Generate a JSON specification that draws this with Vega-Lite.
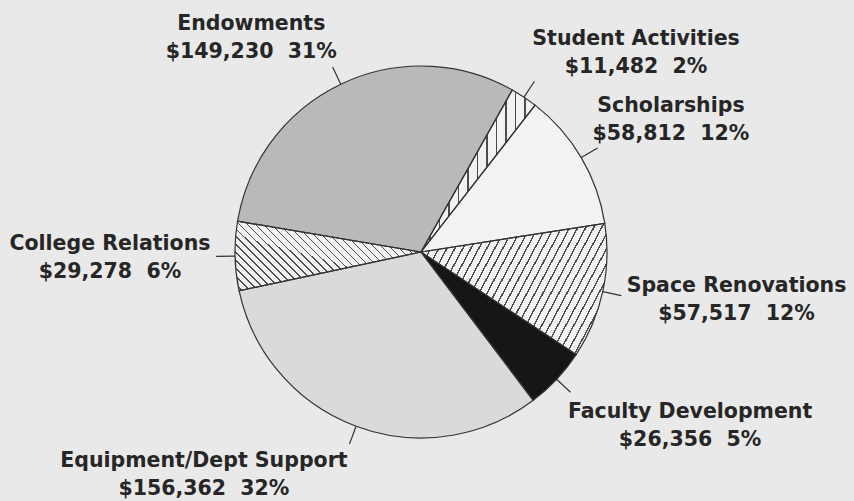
{
  "$schema": "https://vega.github.io/schema/vega-lite/v6.json",
  "width": 842,
  "height": 498,
  "autosize": {"type": "none"},
  "padding": {"left": 0, "top": 3, "right": 12, "bottom": 0},
  "background": "#e9e9e9",
  "view": {"stroke": null},
  "data": {
    "values": [
      {"idx": 1, "name": "Student Activities", "value": 11482, "label": "Student Activities\n$11,482 \u00a02%"},
      {"idx": 2, "name": "Scholarships", "value": 58812, "label": "Scholarships\n$58,812 \u00a012%"},
      {"idx": 3, "name": "Space Renovations", "value": 57517, "label": "Space Renovations\n$57,517 \u00a012%"},
      {"idx": 4, "name": "Faculty Development", "value": 26356, "label": "Faculty Development\n$26,356 \u00a05%"},
      {"idx": 5, "name": "Equipment/Dept Support", "value": 156362, "label": "Equipment/Dept Support\n$156,362 \u00a032%"},
      {"idx": 6, "name": "College Relations", "value": 29278, "label": "College Relations\n$29,278 \u00a06%"},
      {"idx": 7, "name": "Endowments", "value": 149230, "label": "Endowments\n$149,230 \u00a031%"}
    ]
  },
  "encoding": {
    "theta": {"field": "value", "type": "quantitative", "stack": true, "scale": {"range": [0.513, 6.796]}},
    "order": {"field": "idx", "type": "quantitative"}
  },
  "layer": [
    {
      "mark": {"type": "arc", "outerRadius": 186, "strokeWidth": 0},
      "encoding": {
        "color": {
          "field": "name",
          "type": "nominal",
          "legend": null,
          "scale": {
            "domain": ["Student Activities", "Scholarships", "Space Renovations", "Faculty Development", "Equipment/Dept Support", "College Relations", "Endowments"],
            "range": ["#d9d9d9", "#f3f3f3", "#c9c9c9", "#161616", "#dadada", "#c2c2c2", "#b9b9b9"]
          }
        }
      }
    },
    {
      "mark": {"type": "arc", "outerRadius": 186, "strokeWidth": 0},
      "encoding": {
        "fill": {
          "condition": [
            {
              "test": "datum.name === 'Space Renovations'",
              "value": {
                "gradient": "linear", "x1": 0, "y1": 0, "x2": 1.2055, "y2": 0.4514,
                "stops": [
                  {"offset": 0, "color": "#f2f2f2"}, {"offset": 0.025, "color": "#f2f2f2"}, {"offset": 0.025, "color": "#4d4d4d"}, {"offset": 0.03125, "color": "#4d4d4d"},
                  {"offset": 0.03125, "color": "#f2f2f2"}, {"offset": 0.05625, "color": "#f2f2f2"}, {"offset": 0.05625, "color": "#4d4d4d"}, {"offset": 0.0625, "color": "#4d4d4d"},
                  {"offset": 0.0625, "color": "#f2f2f2"}, {"offset": 0.0875, "color": "#f2f2f2"}, {"offset": 0.0875, "color": "#4d4d4d"}, {"offset": 0.09375, "color": "#4d4d4d"},
                  {"offset": 0.09375, "color": "#f2f2f2"}, {"offset": 0.11875, "color": "#f2f2f2"}, {"offset": 0.11875, "color": "#4d4d4d"}, {"offset": 0.125, "color": "#4d4d4d"},
                  {"offset": 0.125, "color": "#f2f2f2"}, {"offset": 0.15, "color": "#f2f2f2"}, {"offset": 0.15, "color": "#4d4d4d"}, {"offset": 0.15625, "color": "#4d4d4d"},
                  {"offset": 0.15625, "color": "#f2f2f2"}, {"offset": 0.18125, "color": "#f2f2f2"}, {"offset": 0.18125, "color": "#4d4d4d"}, {"offset": 0.1875, "color": "#4d4d4d"},
                  {"offset": 0.1875, "color": "#f2f2f2"}, {"offset": 0.2125, "color": "#f2f2f2"}, {"offset": 0.2125, "color": "#4d4d4d"}, {"offset": 0.21875, "color": "#4d4d4d"},
                  {"offset": 0.21875, "color": "#f2f2f2"}, {"offset": 0.24375, "color": "#f2f2f2"}, {"offset": 0.24375, "color": "#4d4d4d"}, {"offset": 0.25, "color": "#4d4d4d"},
                  {"offset": 0.25, "color": "#f2f2f2"}, {"offset": 0.275, "color": "#f2f2f2"}, {"offset": 0.275, "color": "#4d4d4d"}, {"offset": 0.28125, "color": "#4d4d4d"},
                  {"offset": 0.28125, "color": "#f2f2f2"}, {"offset": 0.30625, "color": "#f2f2f2"}, {"offset": 0.30625, "color": "#4d4d4d"}, {"offset": 0.3125, "color": "#4d4d4d"},
                  {"offset": 0.3125, "color": "#f2f2f2"}, {"offset": 0.3375, "color": "#f2f2f2"}, {"offset": 0.3375, "color": "#4d4d4d"}, {"offset": 0.34375, "color": "#4d4d4d"},
                  {"offset": 0.34375, "color": "#f2f2f2"}, {"offset": 0.36875, "color": "#f2f2f2"}, {"offset": 0.36875, "color": "#4d4d4d"}, {"offset": 0.375, "color": "#4d4d4d"},
                  {"offset": 0.375, "color": "#f2f2f2"}, {"offset": 0.4, "color": "#f2f2f2"}, {"offset": 0.4, "color": "#4d4d4d"}, {"offset": 0.40625, "color": "#4d4d4d"},
                  {"offset": 0.40625, "color": "#f2f2f2"}, {"offset": 0.43125, "color": "#f2f2f2"}, {"offset": 0.43125, "color": "#4d4d4d"}, {"offset": 0.4375, "color": "#4d4d4d"},
                  {"offset": 0.4375, "color": "#f2f2f2"}, {"offset": 0.4625, "color": "#f2f2f2"}, {"offset": 0.4625, "color": "#4d4d4d"}, {"offset": 0.46875, "color": "#4d4d4d"},
                  {"offset": 0.46875, "color": "#f2f2f2"}, {"offset": 0.49375, "color": "#f2f2f2"}, {"offset": 0.49375, "color": "#4d4d4d"}, {"offset": 0.5, "color": "#4d4d4d"},
                  {"offset": 0.5, "color": "#f2f2f2"}, {"offset": 0.525, "color": "#f2f2f2"}, {"offset": 0.525, "color": "#4d4d4d"}, {"offset": 0.53125, "color": "#4d4d4d"},
                  {"offset": 0.53125, "color": "#f2f2f2"}, {"offset": 0.55625, "color": "#f2f2f2"}, {"offset": 0.55625, "color": "#4d4d4d"}, {"offset": 0.5625, "color": "#4d4d4d"},
                  {"offset": 0.5625, "color": "#f2f2f2"}, {"offset": 0.5875, "color": "#f2f2f2"}, {"offset": 0.5875, "color": "#4d4d4d"}, {"offset": 0.59375, "color": "#4d4d4d"},
                  {"offset": 0.59375, "color": "#f2f2f2"}, {"offset": 0.61875, "color": "#f2f2f2"}, {"offset": 0.61875, "color": "#4d4d4d"}, {"offset": 0.625, "color": "#4d4d4d"},
                  {"offset": 0.625, "color": "#f2f2f2"}, {"offset": 0.65, "color": "#f2f2f2"}, {"offset": 0.65, "color": "#4d4d4d"}, {"offset": 0.65625, "color": "#4d4d4d"},
                  {"offset": 0.65625, "color": "#f2f2f2"}, {"offset": 0.68125, "color": "#f2f2f2"}, {"offset": 0.68125, "color": "#4d4d4d"}, {"offset": 0.6875, "color": "#4d4d4d"},
                  {"offset": 0.6875, "color": "#f2f2f2"}, {"offset": 0.7125, "color": "#f2f2f2"}, {"offset": 0.7125, "color": "#4d4d4d"}, {"offset": 0.71875, "color": "#4d4d4d"},
                  {"offset": 0.71875, "color": "#f2f2f2"}, {"offset": 0.74375, "color": "#f2f2f2"}, {"offset": 0.74375, "color": "#4d4d4d"}, {"offset": 0.75, "color": "#4d4d4d"},
                  {"offset": 0.75, "color": "#f2f2f2"}, {"offset": 0.775, "color": "#f2f2f2"}, {"offset": 0.775, "color": "#4d4d4d"}, {"offset": 0.78125, "color": "#4d4d4d"},
                  {"offset": 0.78125, "color": "#f2f2f2"}, {"offset": 0.80625, "color": "#f2f2f2"}, {"offset": 0.80625, "color": "#4d4d4d"}, {"offset": 0.8125, "color": "#4d4d4d"},
                  {"offset": 0.8125, "color": "#f2f2f2"}, {"offset": 0.8375, "color": "#f2f2f2"}, {"offset": 0.8375, "color": "#4d4d4d"}, {"offset": 0.84375, "color": "#4d4d4d"},
                  {"offset": 0.84375, "color": "#f2f2f2"}, {"offset": 0.86875, "color": "#f2f2f2"}, {"offset": 0.86875, "color": "#4d4d4d"}, {"offset": 0.875, "color": "#4d4d4d"},
                  {"offset": 0.875, "color": "#f2f2f2"}, {"offset": 0.9, "color": "#f2f2f2"}, {"offset": 0.9, "color": "#4d4d4d"}, {"offset": 0.90625, "color": "#4d4d4d"},
                  {"offset": 0.90625, "color": "#f2f2f2"}, {"offset": 0.93125, "color": "#f2f2f2"}, {"offset": 0.93125, "color": "#4d4d4d"}, {"offset": 0.9375, "color": "#4d4d4d"},
                  {"offset": 0.9375, "color": "#f2f2f2"}, {"offset": 0.9625, "color": "#f2f2f2"}, {"offset": 0.9625, "color": "#4d4d4d"}, {"offset": 0.96875, "color": "#4d4d4d"},
                  {"offset": 0.96875, "color": "#f2f2f2"}, {"offset": 0.99375, "color": "#f2f2f2"}, {"offset": 0.99375, "color": "#4d4d4d"}, {"offset": 1, "color": "#4d4d4d"}
                ]
              }
            },
            {
              "test": "datum.name === 'College Relations'",
              "value": {
                "gradient": "linear", "x1": 0, "y1": 1, "x2": 1.205, "y2": 0.548,
                "stops": [
                  {"offset": 0, "color": "#f2f2f2"}, {"offset": 0.025, "color": "#f2f2f2"}, {"offset": 0.025, "color": "#4d4d4d"}, {"offset": 0.03125, "color": "#4d4d4d"},
                  {"offset": 0.03125, "color": "#f2f2f2"}, {"offset": 0.05625, "color": "#f2f2f2"}, {"offset": 0.05625, "color": "#4d4d4d"}, {"offset": 0.0625, "color": "#4d4d4d"},
                  {"offset": 0.0625, "color": "#f2f2f2"}, {"offset": 0.0875, "color": "#f2f2f2"}, {"offset": 0.0875, "color": "#4d4d4d"}, {"offset": 0.09375, "color": "#4d4d4d"},
                  {"offset": 0.09375, "color": "#f2f2f2"}, {"offset": 0.11875, "color": "#f2f2f2"}, {"offset": 0.11875, "color": "#4d4d4d"}, {"offset": 0.125, "color": "#4d4d4d"},
                  {"offset": 0.125, "color": "#f2f2f2"}, {"offset": 0.15, "color": "#f2f2f2"}, {"offset": 0.15, "color": "#4d4d4d"}, {"offset": 0.15625, "color": "#4d4d4d"},
                  {"offset": 0.15625, "color": "#f2f2f2"}, {"offset": 0.18125, "color": "#f2f2f2"}, {"offset": 0.18125, "color": "#4d4d4d"}, {"offset": 0.1875, "color": "#4d4d4d"},
                  {"offset": 0.1875, "color": "#f2f2f2"}, {"offset": 0.2125, "color": "#f2f2f2"}, {"offset": 0.2125, "color": "#4d4d4d"}, {"offset": 0.21875, "color": "#4d4d4d"},
                  {"offset": 0.21875, "color": "#f2f2f2"}, {"offset": 0.24375, "color": "#f2f2f2"}, {"offset": 0.24375, "color": "#4d4d4d"}, {"offset": 0.25, "color": "#4d4d4d"},
                  {"offset": 0.25, "color": "#f2f2f2"}, {"offset": 0.275, "color": "#f2f2f2"}, {"offset": 0.275, "color": "#4d4d4d"}, {"offset": 0.28125, "color": "#4d4d4d"},
                  {"offset": 0.28125, "color": "#f2f2f2"}, {"offset": 0.30625, "color": "#f2f2f2"}, {"offset": 0.30625, "color": "#4d4d4d"}, {"offset": 0.3125, "color": "#4d4d4d"},
                  {"offset": 0.3125, "color": "#f2f2f2"}, {"offset": 0.3375, "color": "#f2f2f2"}, {"offset": 0.3375, "color": "#4d4d4d"}, {"offset": 0.34375, "color": "#4d4d4d"},
                  {"offset": 0.34375, "color": "#f2f2f2"}, {"offset": 0.36875, "color": "#f2f2f2"}, {"offset": 0.36875, "color": "#4d4d4d"}, {"offset": 0.375, "color": "#4d4d4d"},
                  {"offset": 0.375, "color": "#f2f2f2"}, {"offset": 0.4, "color": "#f2f2f2"}, {"offset": 0.4, "color": "#4d4d4d"}, {"offset": 0.40625, "color": "#4d4d4d"},
                  {"offset": 0.40625, "color": "#f2f2f2"}, {"offset": 0.43125, "color": "#f2f2f2"}, {"offset": 0.43125, "color": "#4d4d4d"}, {"offset": 0.4375, "color": "#4d4d4d"},
                  {"offset": 0.4375, "color": "#f2f2f2"}, {"offset": 0.4625, "color": "#f2f2f2"}, {"offset": 0.4625, "color": "#4d4d4d"}, {"offset": 0.46875, "color": "#4d4d4d"},
                  {"offset": 0.46875, "color": "#f2f2f2"}, {"offset": 0.49375, "color": "#f2f2f2"}, {"offset": 0.49375, "color": "#4d4d4d"}, {"offset": 0.5, "color": "#4d4d4d"},
                  {"offset": 0.5, "color": "#f2f2f2"}, {"offset": 0.525, "color": "#f2f2f2"}, {"offset": 0.525, "color": "#4d4d4d"}, {"offset": 0.53125, "color": "#4d4d4d"},
                  {"offset": 0.53125, "color": "#f2f2f2"}, {"offset": 0.55625, "color": "#f2f2f2"}, {"offset": 0.55625, "color": "#4d4d4d"}, {"offset": 0.5625, "color": "#4d4d4d"},
                  {"offset": 0.5625, "color": "#f2f2f2"}, {"offset": 0.5875, "color": "#f2f2f2"}, {"offset": 0.5875, "color": "#4d4d4d"}, {"offset": 0.59375, "color": "#4d4d4d"},
                  {"offset": 0.59375, "color": "#f2f2f2"}, {"offset": 0.61875, "color": "#f2f2f2"}, {"offset": 0.61875, "color": "#4d4d4d"}, {"offset": 0.625, "color": "#4d4d4d"},
                  {"offset": 0.625, "color": "#f2f2f2"}, {"offset": 0.65, "color": "#f2f2f2"}, {"offset": 0.65, "color": "#4d4d4d"}, {"offset": 0.65625, "color": "#4d4d4d"},
                  {"offset": 0.65625, "color": "#f2f2f2"}, {"offset": 0.68125, "color": "#f2f2f2"}, {"offset": 0.68125, "color": "#4d4d4d"}, {"offset": 0.6875, "color": "#4d4d4d"},
                  {"offset": 0.6875, "color": "#f2f2f2"}, {"offset": 0.7125, "color": "#f2f2f2"}, {"offset": 0.7125, "color": "#4d4d4d"}, {"offset": 0.71875, "color": "#4d4d4d"},
                  {"offset": 0.71875, "color": "#f2f2f2"}, {"offset": 0.74375, "color": "#f2f2f2"}, {"offset": 0.74375, "color": "#4d4d4d"}, {"offset": 0.75, "color": "#4d4d4d"},
                  {"offset": 0.75, "color": "#f2f2f2"}, {"offset": 0.775, "color": "#f2f2f2"}, {"offset": 0.775, "color": "#4d4d4d"}, {"offset": 0.78125, "color": "#4d4d4d"},
                  {"offset": 0.78125, "color": "#f2f2f2"}, {"offset": 0.80625, "color": "#f2f2f2"}, {"offset": 0.80625, "color": "#4d4d4d"}, {"offset": 0.8125, "color": "#4d4d4d"},
                  {"offset": 0.8125, "color": "#f2f2f2"}, {"offset": 0.8375, "color": "#f2f2f2"}, {"offset": 0.8375, "color": "#4d4d4d"}, {"offset": 0.84375, "color": "#4d4d4d"},
                  {"offset": 0.84375, "color": "#f2f2f2"}, {"offset": 0.86875, "color": "#f2f2f2"}, {"offset": 0.86875, "color": "#4d4d4d"}, {"offset": 0.875, "color": "#4d4d4d"},
                  {"offset": 0.875, "color": "#f2f2f2"}, {"offset": 0.9, "color": "#f2f2f2"}, {"offset": 0.9, "color": "#4d4d4d"}, {"offset": 0.90625, "color": "#4d4d4d"},
                  {"offset": 0.90625, "color": "#f2f2f2"}, {"offset": 0.93125, "color": "#f2f2f2"}, {"offset": 0.93125, "color": "#4d4d4d"}, {"offset": 0.9375, "color": "#4d4d4d"},
                  {"offset": 0.9375, "color": "#f2f2f2"}, {"offset": 0.9625, "color": "#f2f2f2"}, {"offset": 0.9625, "color": "#4d4d4d"}, {"offset": 0.96875, "color": "#4d4d4d"},
                  {"offset": 0.96875, "color": "#f2f2f2"}, {"offset": 0.99375, "color": "#f2f2f2"}, {"offset": 0.99375, "color": "#4d4d4d"}, {"offset": 1, "color": "#4d4d4d"}
                ]
              }
            },
            {
              "test": "datum.name === 'Student Activities'",
              "value": {
                "gradient": "linear", "x1": 0, "y1": 0, "x2": 1, "y2": 0,
                "stops": [
                  {"offset": 0, "color": "#f2f2f2"}, {"offset": 0.0725, "color": "#f2f2f2"}, {"offset": 0.0725, "color": "#4d4d4d"}, {"offset": 0.0833, "color": "#4d4d4d"},
                  {"offset": 0.0833, "color": "#f2f2f2"}, {"offset": 0.1558, "color": "#f2f2f2"}, {"offset": 0.1558, "color": "#4d4d4d"}, {"offset": 0.1667, "color": "#4d4d4d"},
                  {"offset": 0.1667, "color": "#f2f2f2"}, {"offset": 0.2392, "color": "#f2f2f2"}, {"offset": 0.2392, "color": "#4d4d4d"}, {"offset": 0.25, "color": "#4d4d4d"},
                  {"offset": 0.25, "color": "#f2f2f2"}, {"offset": 0.3225, "color": "#f2f2f2"}, {"offset": 0.3225, "color": "#4d4d4d"}, {"offset": 0.3333, "color": "#4d4d4d"},
                  {"offset": 0.3333, "color": "#f2f2f2"}, {"offset": 0.4058, "color": "#f2f2f2"}, {"offset": 0.4058, "color": "#4d4d4d"}, {"offset": 0.4167, "color": "#4d4d4d"},
                  {"offset": 0.4167, "color": "#f2f2f2"}, {"offset": 0.4892, "color": "#f2f2f2"}, {"offset": 0.4892, "color": "#4d4d4d"}, {"offset": 0.5, "color": "#4d4d4d"},
                  {"offset": 0.5, "color": "#f2f2f2"}, {"offset": 0.5725, "color": "#f2f2f2"}, {"offset": 0.5725, "color": "#4d4d4d"}, {"offset": 0.5833, "color": "#4d4d4d"},
                  {"offset": 0.5833, "color": "#f2f2f2"}, {"offset": 0.6558, "color": "#f2f2f2"}, {"offset": 0.6558, "color": "#4d4d4d"}, {"offset": 0.6667, "color": "#4d4d4d"},
                  {"offset": 0.6667, "color": "#f2f2f2"}, {"offset": 0.7392, "color": "#f2f2f2"}, {"offset": 0.7392, "color": "#4d4d4d"}, {"offset": 0.75, "color": "#4d4d4d"},
                  {"offset": 0.75, "color": "#f2f2f2"}, {"offset": 0.8225, "color": "#f2f2f2"}, {"offset": 0.8225, "color": "#4d4d4d"}, {"offset": 0.8333, "color": "#4d4d4d"},
                  {"offset": 0.8333, "color": "#f2f2f2"}, {"offset": 0.9058, "color": "#f2f2f2"}, {"offset": 0.9058, "color": "#4d4d4d"}, {"offset": 0.9167, "color": "#4d4d4d"},
                  {"offset": 0.9167, "color": "#f2f2f2"}, {"offset": 0.9892, "color": "#f2f2f2"}, {"offset": 0.9892, "color": "#4d4d4d"}, {"offset": 1, "color": "#4d4d4d"}
                ]
              }
            }
          ],
          "value": "transparent"
        }
      }
    },
    {
      "mark": {"type": "arc", "outerRadius": 186, "filled": false, "stroke": "#333333", "strokeWidth": 1.2},
      "encoding": {}
    },
    {
      "mark": {"type": "arc", "outerRadius": 205, "innerRadius": 186, "padAngle": 1.6, "filled": false, "stroke": "#333333", "strokeWidth": 1.2},
      "encoding": {}
    },
    {
      "mark": {"type": "text", "radius": 290, "dx": 54.5, "dy": 28.6, "font": "DejaVu Sans", "fontSize": 20.5, "fontWeight": "bold", "lineHeight": 27.5, "lineBreak": "\n", "align": "center", "baseline": "middle", "fill": "#262626"},
      "encoding": {"text": {"condition": {"test": "datum.name === 'Student Activities'", "field": "label", "type": "nominal"}, "value": ""}}
    },
    {
      "mark": {"type": "text", "radius": 290, "dx": 0.1, "dy": 1.3, "font": "DejaVu Sans", "fontSize": 20.5, "fontWeight": "bold", "lineHeight": 27.5, "lineBreak": "\n", "align": "center", "baseline": "middle", "fill": "#262626"},
      "encoding": {"text": {"condition": {"test": "datum.name === 'Scholarships'", "field": "label", "type": "nominal"}, "value": ""}}
    },
    {
      "mark": {"type": "text", "radius": 290, "dx": 32.2, "dy": -27.7, "font": "DejaVu Sans", "fontSize": 20.5, "fontWeight": "bold", "lineHeight": 27.5, "lineBreak": "\n", "align": "center", "baseline": "middle", "fill": "#262626"},
      "encoding": {"text": {"condition": {"test": "datum.name === 'Space Renovations'", "field": "label", "type": "nominal"}, "value": ""}}
    },
    {
      "mark": {"type": "text", "radius": 290, "dx": 57.6, "dy": -38.4, "font": "DejaVu Sans", "fontSize": 20.5, "fontWeight": "bold", "lineHeight": 27.5, "lineBreak": "\n", "align": "center", "baseline": "middle", "fill": "#262626"},
      "encoding": {"text": {"condition": {"test": "datum.name === 'Faculty Development'", "field": "label", "type": "nominal"}, "value": ""}}
    },
    {
      "mark": {"type": "text", "radius": 290, "dx": -115.9, "dy": -62.5, "font": "DejaVu Sans", "fontSize": 20.5, "fontWeight": "bold", "lineHeight": 27.5, "lineBreak": "\n", "align": "center", "baseline": "middle", "fill": "#262626"},
      "encoding": {"text": {"condition": {"test": "datum.name === 'Equipment/Dept Support'", "field": "label", "type": "nominal"}, "value": ""}}
    },
    {
      "mark": {"type": "text", "radius": 290, "dx": -21.1, "dy": -14, "font": "DejaVu Sans", "fontSize": 20.5, "fontWeight": "bold", "lineHeight": 27.5, "lineBreak": "\n", "align": "center", "baseline": "middle", "fill": "#262626"},
      "encoding": {"text": {"condition": {"test": "datum.name === 'College Relations'", "field": "label", "type": "nominal"}, "value": ""}}
    },
    {
      "mark": {"type": "text", "radius": 290, "dx": -44.7, "dy": 33.9, "font": "DejaVu Sans", "fontSize": 20.5, "fontWeight": "bold", "lineHeight": 27.5, "lineBreak": "\n", "align": "center", "baseline": "middle", "fill": "#262626"},
      "encoding": {"text": {"condition": {"test": "datum.name === 'Endowments'", "field": "label", "type": "nominal"}, "value": ""}}
    }
  ]
}
